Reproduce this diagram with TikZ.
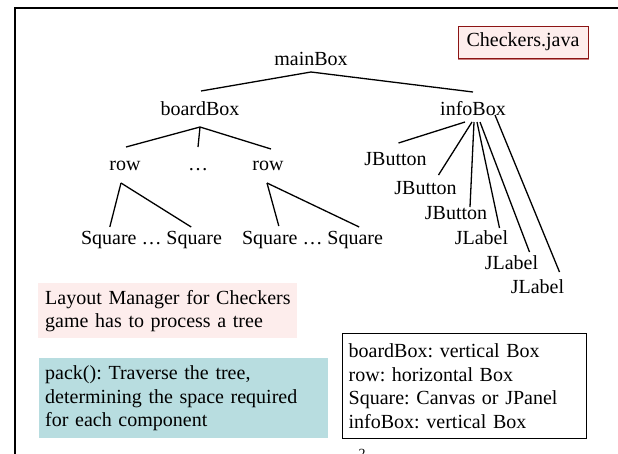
\documentclass[tikz,border=0pt]{standalone}
\usepackage{fontspec}
\setmainfont{Liberation Serif}
\usetikzlibrary{calc}
\definecolor{pinkfill}{RGB}{253,237,236}
\definecolor{redborder}{RGB}{140,20,20}
\definecolor{redshade}{RGB}{200,125,125}
\definecolor{tealfill}{RGB}{184,221,224}
\frenchspacing
\hyphenpenalty=10000
\exhyphenpenalty=10000
\hbadness=10000
\hfuzz=100pt
\begin{document}
\begin{tikzpicture}[x=1pt,y=-1pt,
  font=\fontsize{20}{24}\selectfont,
  lbl/.style={inner sep=0pt, anchor=base},
  edge/.style={line width=1.3pt},
  notebox/.style={anchor=north west, align=left, inner ysep=0pt}]
\useasboundingbox (0,0) rectangle (618,453);
% page frame
\draw[line width=2.5pt] (15,460) -- (15,8) -- (630,8);
% file label
\node[draw=redborder, fill=pinkfill, line width=1pt, minimum width=130pt, minimum height=32pt, inner sep=0pt] (file) at (523,42) {Checkers.java};
\draw[redshade, line width=1.4pt] ($(file.south west)+(0.5,1.2)$) -- ($(file.south east)+(0.5,1.2)$);
% tree nodes
\node[lbl] (mainBox) at (311,65) {mainBox};
\node[lbl] (boardBox) at (200,115) {boardBox};
\node[lbl] (infoBox) at (473,115) {infoBox};
\node[lbl] (row1) at (125,170) {row};
\node[lbl] (rdots) at (198,170) {…};
\node[lbl] (row2) at (268,170) {row};
\node[lbl] (sq1) at (108.8,244) {Square};
\node[lbl] (sdots1) at (151.5,244) {…};
\node[lbl] (sq2) at (194.2,244) {Square};
\node[lbl] (sq3) at (269.8,244) {Square};
\node[lbl] (sdots2) at (312.5,244) {…};
\node[lbl] (sq4) at (355.2,244) {Square};
\node[lbl] (jb1) at (395.5,165) {JButton};
\node[lbl] (jb2) at (425.5,194) {JButton};
\node[lbl] (jb3) at (456,219) {JButton};
\node[lbl] (jl1) at (481.5,244) {JLabel};
\node[lbl] (jl2) at (511.5,269) {JLabel};
\node[lbl] (jl3) at (537.5,293) {JLabel};
% connectors
\draw[edge] ($(mainBox.base)+(0,7)$) -- ($(boardBox.base)+(1,-24)$);
\draw[edge] ($(mainBox.base)+(0,7)$) -- ($(infoBox.base)+(0,-23)$);
\draw[edge] ($(boardBox.base)+(0,12)$) -- ($(row1.base)+(1,-23)$);
\draw[edge] ($(boardBox.base)+(0,12)$) -- ($(rdots.base)+(0,-23)$);
\draw[edge] ($(boardBox.base)+(0,12)$) -- ($(row2.base)+(3,-21)$);
\draw[edge] ($(row1.base)+(-4,13)$) -- ($(sq1.base)+(1,-17)$);
\draw[edge] ($(row1.base)+(-4,13)$) -- ($(sq2.base)+(-3,-17)$);
\draw[edge] ($(row2.base)+(-1,13)$) -- ($(sq3.base)+(9,-18)$);
\draw[edge] ($(row2.base)+(-1,13)$) -- ($(sq4.base)+(4,-17)$);
\draw[edge] ($(infoBox.base)+(-8,7)$) -- ($(jb1.base)+(3,-22)$);
\draw[edge] ($(infoBox.base)+(-1,7)$) -- ($(jb2.base)+(13,-19)$);
\draw[edge] ($(infoBox.base)+(1,7)$) -- ($(jb3.base)+(14,-12)$);
\draw[edge] ($(infoBox.base)+(4,7)$) -- ($(jl1.base)+(18,-16)$);
\draw[edge] ($(infoBox.base)+(7,7)$) -- ($(jl2.base)+(18,-17)$);
\draw[edge] ($(infoBox.base)+(22,0)$) -- ($(jl3.base)+(22,-21)$);
% notes
\node[notebox, fill=pinkfill, minimum width=259pt, minimum height=55pt, text width=245pt, inner xsep=7pt, font=\fontsize{20}{23}\selectfont] (layout) at (38,283) {\mbox{Layout Manager for Checkers}\\\mbox{game has to process a tree}};
\node[notebox, fill=tealfill, minimum width=289pt, minimum height=80pt, text width=277pt, inner xsep=6pt, font=\fontsize{20}{23.5}\selectfont] (pack) at (39,358) {\mbox{pack(): Traverse the tree,}\\\mbox{determining the space required}\\\mbox{for each component}};
\node[notebox, draw=black, line width=1.3pt, minimum width=244pt, minimum height=105pt, text width=232pt, inner xsep=6pt, font=\fontsize{20}{23.7}\selectfont] (legend) at (342,333) {\mbox{boardBox: vertical Box}\\\mbox{row: horizontal Box}\\\mbox{Square: Canvas or JPanel}\\\mbox{infoBox: vertical Box}};
% page number (cut off, as in the reference)
\node[inner sep=0pt, anchor=north, font=\fontsize{14}{16}\selectfont] (pagenum) at (362,449) {2};
\end{tikzpicture}
\end{document}
